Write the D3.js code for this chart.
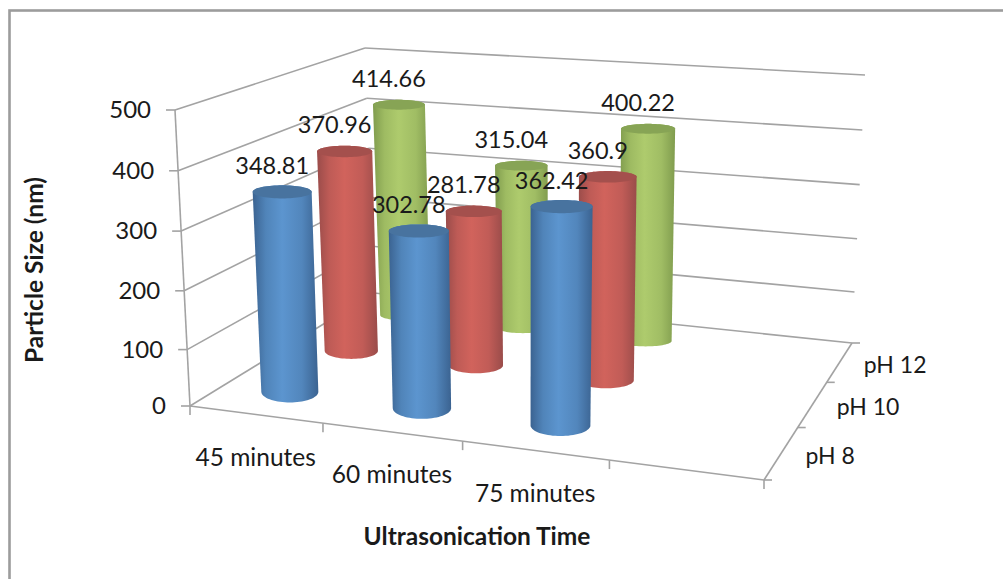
<!DOCTYPE html>
<html>
<head>
<meta charset="utf-8">
<script src="https://cdnjs.cloudflare.com/ajax/libs/d3/7.8.5/d3.min.js"></script>
<style>
  html, body { margin: 0; padding: 0; background: #fff; }
  svg { display: block; }
  text { font-family: Lato, "Open Sans", sans-serif; fill: #1a1a1a; }
</style>
</head>
<body>
<script>
const categories = ["45 minutes", "60 minutes", "75 minutes", ""];
const seriesNames = ["pH 8", "pH 10", "pH 12"];
const ph8 = [348.81, 302.78, 362.42];
const ph10 = [370.96, 281.78, 360.9];
const ph12 = [414.66, 315.04, 400.22];
const seriesValues = [ph8, ph10, ph12];
const valueTicks = [0, 100, 200, 300, 400, 500];

const WIDTH = 1003;
const HEIGHT = 579;
const GRID = "#a3a3a3";

// corners of the chart box on screen: front left, front right, back right, back left
const FLOOR = [[190, 406], [764, 480], [852, 343], [374, 293]];
const CEILING = [[175, 110], [778, 151], [865, 75], [365, 48]];

const palette = [
  { edge: "#3b6391", mid: "#5c95cf", cap: "#48739f" },
  { edge: "#9a4c4a", mid: "#d1635c", cap: "#a4504d" },
  { edge: "#809c4e", mid: "#aecb6d", cap: "#87a455" }
];

// unit square to screen quad
function quadMap(q) {
  const [p0, p1, p2, p3] = q;
  const dx1 = p1[0] - p2[0], dx2 = p3[0] - p2[0], sx = p0[0] - p1[0] + p2[0] - p3[0];
  const dy1 = p1[1] - p2[1], dy2 = p3[1] - p2[1], sy = p0[1] - p1[1] + p2[1] - p3[1];
  const den = dx1 * dy2 - dx2 * dy1;
  const g = (sx * dy2 - dx2 * sy) / den;
  const h = (dx1 * sy - sx * dy1) / den;
  const a = p1[0] - p0[0] + g * p1[0], b = p3[0] - p0[0] + h * p3[0];
  const d = p1[1] - p0[1] + g * p1[1], e = p3[1] - p0[1] + h * p3[1];
  const map = (u, v) => {
    const w = g * u + h * v + 1;
    return [(a * u + b * v + p0[0]) / w, (d * u + e * v + p0[1]) / w];
  };
  map.scale = (u, v) => 1 / (g * u + h * v + 1);
  return map;
}

const floorAt = quadMap(FLOOR);
const ceilingAt = quadMap(CEILING);

const uScale = d3.scaleBand().domain(categories).range([0, 1]);
const vScale = d3.scaleBand().domain(seriesNames).range([0, 1]);
const wScale = d3.scalePow().exponent(1.03).domain([0, 500]).range([0, 1]);

function project(u, v, value) {
  const w = wScale(value);
  const a = floorAt(u, v), b = ceilingAt(u, v);
  return [a[0] + (b[0] - a[0]) * w, a[1] + (b[1] - a[1]) * w];
}

const uMid = c => uScale(c) + uScale.bandwidth() / 2;
const vMid = s => vScale(s) + vScale.bandwidth() / 2;

const svg = d3.select("body").append("svg")
  .attr("width", WIDTH)
  .attr("height", HEIGHT);

// outer frame
svg.append("rect")
  .attr("x", 9.5).attr("y", 10.5)
  .attr("width", WIDTH + 20).attr("height", HEIGHT + 20)
  .attr("fill", "#fff")
  .attr("stroke", "#9c9c9c")
  .attr("stroke-width", 2.6);

const defs = svg.append("defs");
palette.forEach((p, i) => {
  const grad = defs.append("linearGradient").attr("id", "body" + i);
  const mix = d3.interpolateRgb(p.edge, p.mid);
  [[0, p.edge], [0.2, mix(0.65)], [0.45, p.mid], [0.75, mix(0.7)], [1, p.edge]]
    .forEach(s => grad.append("stop").attr("offset", s[0]).attr("stop-color", s[1]));
});

const seg = (a, b) => svg.append("line")
  .attr("x1", a[0]).attr("y1", a[1])
  .attr("x2", b[0]).attr("y2", b[1])
  .attr("stroke", GRID)
  .attr("stroke-width", 1.6);

// walls
valueTicks.forEach(t => {
  seg(project(0, 0, t), project(0, 1, t));
  seg(project(0, 1, t), project(1, 1, t));
  const p = project(0, 0, t);
  seg([p[0] - 9, p[1]], p);
  svg.append("text")
    .attr("x", p[0] - 24).attr("y", p[1] + 2)
    .attr("text-anchor", "end")
    .attr("dominant-baseline", "middle")
    .attr("font-size", 24)
    .text(t);
});

// floor edges and axes
seg(project(0, 0, 0), project(0, 0, 500));
seg(floorAt(0, 0), floorAt(1, 0));
seg(floorAt(1, 0), floorAt(1, 1));

d3.range(categories.length + 1).forEach(i => {
  const p = floorAt(i / categories.length, 0);
  seg(p, [p[0], p[1] + 9]);
});
d3.range(seriesNames.length + 1).forEach(i => {
  const p = floorAt(1, i / seriesNames.length);
  seg(p, [p[0] + 8, p[1]]);
});

categories.forEach(c => {
  const p = floorAt(uMid(c), 0);
  svg.append("text")
    .attr("x", p[0]).attr("y", p[1] + 45)
    .attr("text-anchor", "middle")
    .attr("dominant-baseline", "middle")
    .attr("font-size", 24.5)
    .text(c);
});
seriesNames.forEach(s => {
  const p = floorAt(1, vMid(s));
  svg.append("text")
    .attr("x", p[0] + 24).attr("y", p[1] + 5)
    .attr("dominant-baseline", "middle")
    .attr("font-size", 23)
    .text(s);
});

// cylinders, back row first
const BASE_RX = 29.2;
const circle = d3.range(72).map(i => [Math.cos(i * Math.PI / 36), Math.sin(i * Math.PI / 36)]);
const outline = d3.line().curve(d3.curveLinearClosed);
const labels = [];

const ryBottom = v => 12 - 8 * v;
const ryTop = v => 7 - 2.5 * v;

for (let si = seriesNames.length - 1; si >= 0; si--) {
  seriesValues[si].forEach((val, ci) => {
    const u = uMid(categories[ci]), v = vMid(seriesNames[si]);
    const rx = BASE_RX * floorAt.scale(u, v);
    const ring = (h, ry, grow) => {
      const c = project(u, v, h);
      return circle.map(k => [c[0] + rx * grow * k[0], c[1] + ry * k[1]]);
    };
    const bottom = ring(0, ryBottom(v), 1);
    const top = ring(val, ryTop(v), 1 + 0.05 * wScale(val));
    svg.append("path")
      .attr("d", outline(d3.polygonHull(bottom.concat(top))))
      .attr("fill", "url(#body" + si + ")");
    svg.append("path")
      .attr("d", outline(top))
      .attr("fill", palette[si].cap);
    const c = project(u, v, val);
    labels.push({ x: c[0] - 10, y: c[1] - 24, text: val });
  });
}

svg.selectAll(".data-label")
  .data(labels)
  .enter()
  .append("text")
  .attr("class", "data-label")
  .attr("x", d => d.x)
  .attr("y", d => d.y)
  .attr("text-anchor", "middle")
  .attr("dominant-baseline", "middle")
  .attr("font-size", 23.5)
  .text(d => d.text);

// axis titles
svg.append("text")
  .attr("x", 477).attr("y", 539)
  .attr("text-anchor", "middle")
  .attr("dominant-baseline", "middle")
  .attr("font-size", 24.5)
  .attr("font-weight", "bold")
  .text("Ultrasonication Time");
svg.append("text")
  .attr("transform", "translate(37, 270) rotate(-90)")
  .attr("text-anchor", "middle")
  .attr("dominant-baseline", "middle")
  .attr("font-size", 24.5)
  .attr("font-weight", "bold")
  .text("Particle Size (nm)");
</script>
</body>
</html>
